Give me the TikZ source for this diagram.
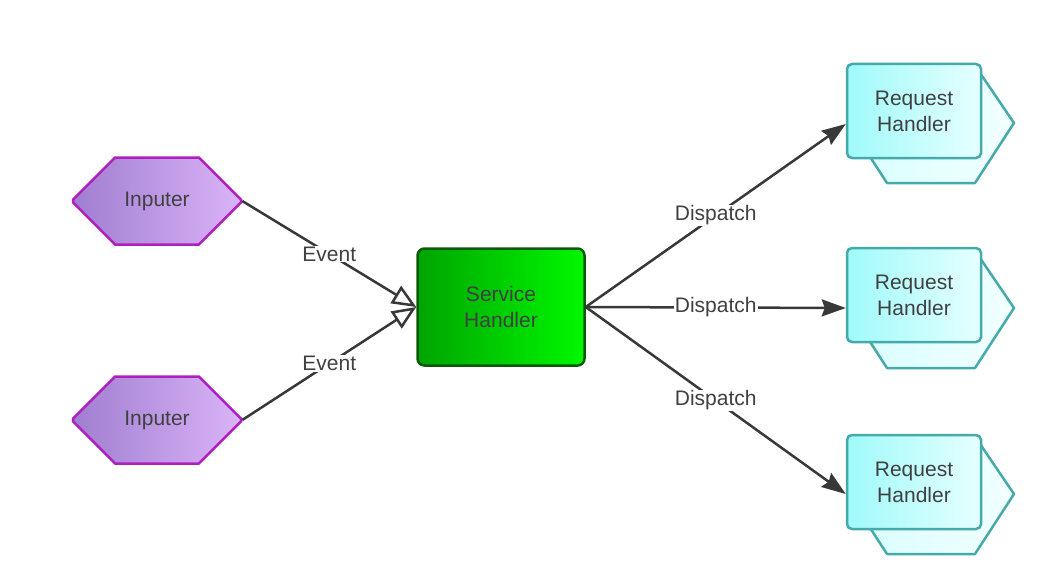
\documentclass[tikz,border=0pt]{standalone}
\usepackage{fontspec}
\setmainfont{Liberation Sans}
\usetikzlibrary{shapes.misc, arrows.meta}
\definecolor{txtgray}{HTML}{404040}
\definecolor{linegray}{HTML}{383838}
\definecolor{inleft}{HTML}{A07ED0}
\definecolor{inright}{HTML}{DAB4F8}
\definecolor{inborder}{HTML}{B01EC0}
\definecolor{shleft}{HTML}{00A400}
\definecolor{shright}{HTML}{00F800}
\definecolor{shborder}{HTML}{0A5A0A}
\definecolor{rqleft}{HTML}{A0FAFA}
\definecolor{rqright}{HTML}{E6FFFF}
\definecolor{rqbackleft}{HTML}{D8FFFF}
\definecolor{rqbackright}{HTML}{F2FFFF}
\definecolor{rqborder}{HTML}{46AAAA}
\tikzstyle{inputer} = [chamfered rectangle, chamfered rectangle xsep=30pt, chamfered rectangle ysep=43.5pt, minimum width=168pt, minimum height=87pt, inner sep=0pt, draw=inborder, line width=2.5pt, left color=inleft, right color=inright, text=txtgray]
\tikzstyle{service} = [rectangle, rounded corners=7pt, minimum width=167pt, minimum height=117pt, align=center, draw=shborder, line width=2.5pt, left color=shleft, right color=shright, text=txtgray]
\tikzstyle{request} = [rectangle, rounded corners=5pt, minimum width=134pt, minimum height=94pt, align=center, draw=rqborder, line width=2.5pt, left color=rqleft, right color=rqright, text=txtgray]
\tikzstyle{rqback} = [draw=rqborder, line width=2.5pt, line join=round, left color=rqbackleft, right color=rqbackright]
\tikzstyle{event} = [line width=2.5pt, draw=linegray, -{Triangle[open, length=24pt, width=20pt]}]
\tikzstyle{dispatch} = [line width=2.5pt, draw=linegray, -{Stealth[length=24pt, width=17pt, inset=3pt]}]
\tikzstyle{lbl} = [midway, fill=white, inner sep=1pt, text=txtgray]

\begin{document}
\begin{tikzpicture}[x=1pt, y=-1pt, every node/.style={font=\fontsize{21}{26}\selectfont}]
\useasboundingbox (0,0) rectangle (1051,567);

\node (in1) [inputer] at (157,201) {Inputer};
\node (in2) [inputer] at (157,420) {Inputer};

\node (sh) [service] at (501,307) {Service\\Handler};

% shadow shapes behind the request handlers
\foreach \y in {123,308,494}
  \draw [rqback, shift={(931,\y)}] (-83,0) -- (-44,60) -- (44,60) -- (83,0) -- (47,-53) -- (-47,-53) -- cycle;

\node (rq1) [request] at (914,111) {Request\\Handler};
\node (rq2) [request] at (914,295) {Request\\Handler};
\node (rq3) [request] at (914,482) {Request\\Handler};

\draw [event] (in1.east) -- node[lbl] {Event} (sh.west);
\draw [event] (in2.east) -- node[lbl] {Event} (sh.west);

\draw [dispatch] (sh.east) -- node[lbl] {Dispatch} ([yshift=-13pt]rq1.west);
\draw [dispatch] (sh.east) -- node[lbl] {Dispatch} ([yshift=-13pt]rq2.west);
\draw [dispatch] (sh.east) -- node[lbl] {Dispatch} ([yshift=-12pt]rq3.west);
\end{tikzpicture}
\end{document}
